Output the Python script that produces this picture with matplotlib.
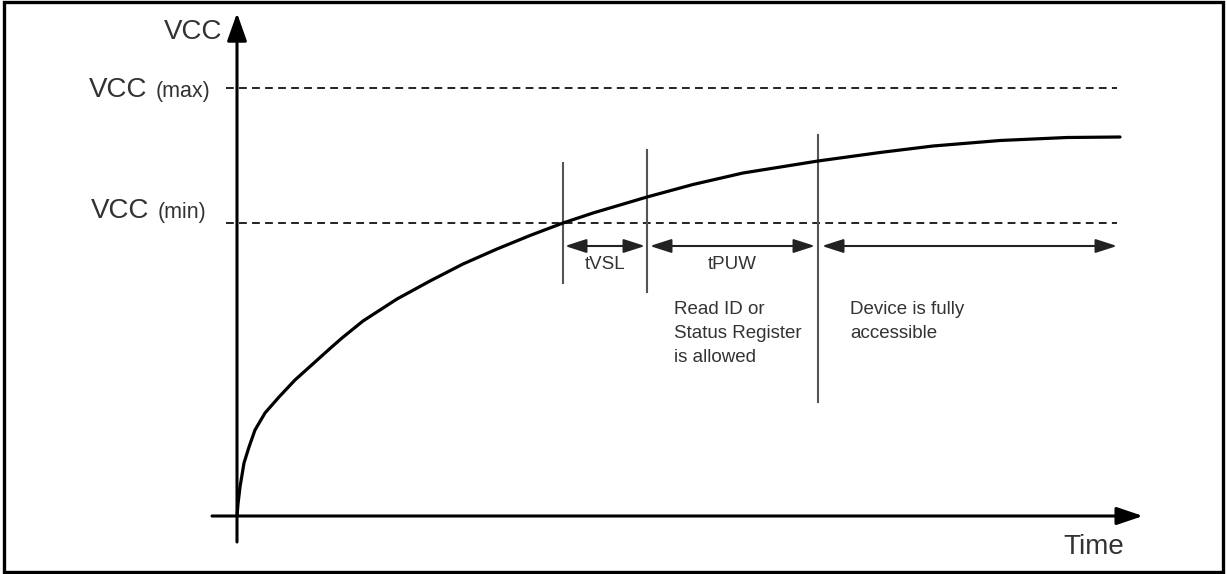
import matplotlib.pyplot as plt
from matplotlib.patches import Rectangle

plt.rcParams['font.family'] = ['Liberation Sans', 'DejaVu Sans']

# power-up curve (time, voltage in drawing units)
curve_t = [0, 1, 3, 7, 12, 18, 28, 42, 58, 78, 93, 105, 126, 160, 193, 226, 260,
           293, 326, 356, 410, 456, 506, 581, 643, 696, 763, 830, 883]
curve_v = [0, 12, 29, 53, 69, 86, 103, 119, 136, 154, 167.5, 178, 195, 217, 235, 252, 267,
           280.5, 293, 303, 319, 331.5, 343, 355, 363.5, 370, 375.5, 378.5, 379]

vcc_max = 428
vcc_min = 293
t_end = 880
# moments marked by vertical lines: Vcc reaches min, end of tVSL, end of tPUW
t_vsl = 326
t_puw = 410
t_full = 581
marker_spans = [(233, 353), (224, 366), (114, 381)]
arrow_v = 270

text_col = '#333333'

fig = plt.figure(figsize=(12.27, 5.74), dpi=100)
ax = fig.add_axes([0, 0, 1, 1])
ax.set_xlim(-237, 990)
ax.set_ylim(-58, 516)
ax.axis('off')

# frame around the diagram
fig.patches.append(Rectangle((4/1227, 2/574), 1219/1227, 570/574, transform=fig.transFigure,
                             fill=False, lw=2.4, edgecolor='black'))

# axes with arrow heads
ax.annotate('', xy=(0, 503), xytext=(0, -26),
            arrowprops=dict(arrowstyle='-|>,head_length=17,head_width=6', mutation_scale=1,
                            lw=2.2, color='black', shrinkA=0, shrinkB=0))
ax.annotate('', xy=(906, 0), xytext=(-25, 0),
            arrowprops=dict(arrowstyle='-|>,head_length=16,head_width=5.4', mutation_scale=1,
                            lw=2.2, color='black', shrinkA=0, shrinkB=0))

# dashed limit lines
for v in (vcc_max, vcc_min):
    ax.plot([-11, t_end], [v, v], color='#222222', lw=1.4, dashes=(4, 2.7))

# marker lines
for t, (lo, hi) in zip([t_vsl, t_puw, t_full], marker_spans):
    ax.plot([t, t], [lo, hi], color='#555555', lw=1.5)

ax.plot(curve_t, curve_v, color='black', lw=2.3, solid_capstyle='round', solid_joinstyle='round')

# interval arrows
for a, b in [(t_vsl + 2, t_puw - 2), (t_puw + 3, t_full - 3), (t_full + 4, t_end)]:
    ax.annotate('', xy=(b, arrow_v), xytext=(a, arrow_v),
                arrowprops=dict(arrowstyle='<|-|>,head_length=13,head_width=4.2', mutation_scale=1,
                                lw=1.5, color='#222222', shrinkA=0, shrinkB=0))

# labels
ax.text(-15, 477, 'VCC', fontsize=20, color=text_col, ha='right', va='baseline')
ax.text(-90, 419, 'VCC', fontsize=20, color=text_col, ha='right', va='baseline')
ax.text(-27, 419, '(max)', fontsize=15.5, color=text_col, ha='right', va='baseline')
ax.text(-88, 298, 'VCC', fontsize=20, color=text_col, ha='right', va='baseline')
ax.text(-31, 298, '(min)', fontsize=15.5, color=text_col, ha='right', va='baseline')
ax.text(826, -38, 'Time', fontsize=20, color=text_col, ha='left', va='baseline')

ax.text(368, 247, 'tVSL', fontsize=13.5, color=text_col, ha='center', va='baseline')
ax.text(495, 247, 'tPUW', fontsize=13.5, color=text_col, ha='center', va='baseline')

for i, line in enumerate(['Read ID or', 'Status Register', 'is allowed']):
    ax.text(437, 202 - 24 * i, line, fontsize=13.5, color=text_col, ha='left', va='baseline')
for i, line in enumerate(['Device is fully', 'accessible']):
    ax.text(613, 202 - 24 * i, line, fontsize=13.5, color=text_col, ha='left', va='baseline')

fig.savefig('out.png', dpi=100)
